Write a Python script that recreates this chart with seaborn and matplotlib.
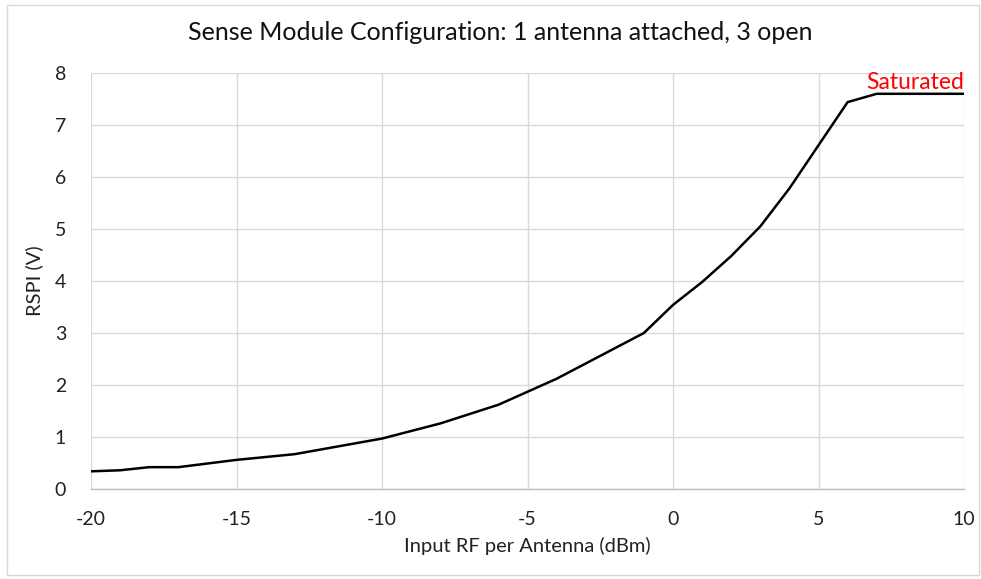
import matplotlib
matplotlib.use("Agg")
import matplotlib.pyplot as plt
from matplotlib.patches import Rectangle
from matplotlib.ticker import MultipleLocator
import seaborn as sns
import pandas as pd

# values
input_rf = [-20, -19, -18, -17, -15, -13, -10, -8, -6, -4, -1, 0, 1, 2, 3, 4, 5, 6, 7, 10]
rspi = [0.34, 0.36, 0.42, 0.42, 0.56, 0.67, 0.97, 1.26, 1.62, 2.12, 3.0, 3.54, 3.98, 4.48, 5.05, 5.78, 6.61, 7.44, 7.6, 7.6]

x_ticks = [-20, -15, -10, -5, 0, 5, 10]
y_ticks = [0, 1, 2, 3, 4, 5, 6, 7, 8]

df = pd.DataFrame({"rf": input_rf, "rspi": rspi})

sns.set_style("white")
plt.rcParams['font.family'] = ['Lato', 'DejaVu Sans']
plt.rcParams['axes.unicode_minus'] = False

fig = plt.figure(figsize=(9.81, 5.79), dpi=100)
ax = fig.add_axes([91 / 981, 1 - 489 / 579, (964 - 91) / 981, (489 - 73) / 579])

sns.lineplot(data=df, x="rf", y="rspi", color="black", linewidth=1.8, ax=ax)

ax.set_xlim(-20, 10)
ax.set_ylim(0, 8)
ax.set_xticks(x_ticks)
ax.set_yticks(y_ticks)
ax.xaxis.set_minor_locator(MultipleLocator(1))
ax.grid(True, which="major", color="#d9d9d9", linewidth=1)
ax.set_axisbelow(True)

for side in ["top", "right", "left"]:
    ax.spines[side].set_visible(False)
ax.spines["bottom"].set_color("#bfbfbf")
ax.spines["bottom"].set_linewidth(1)

ax.tick_params(axis="x", which="both", direction="in", length=5, color="#bfbfbf",
               pad=16, labelsize=14, labelcolor="#222222")
ax.tick_params(axis="y", length=0, pad=18, labelsize=14, labelcolor="#222222")

ax.set_xlabel("Input RF per Antenna (dBm)", fontsize=14.5, labelpad=6, color="#222222")
ax.set_ylabel("RSPI (V)", fontsize=14.5, labelpad=8, color="#222222")

# title is centred on the whole chart, not on the plot area
fig.text(500 / 981, 1 - 33 / 579, "Sense Module Configuration: 1 antenna attached, 3 open",
         fontsize=18, color="#111111", ha="center", va="center")

ax.text(10, 7.62, "Saturated", color="#ff0000", fontsize=16.5, ha="right", va="bottom")

fig.patches.append(Rectangle((7 / 981, 4 / 579), 972 / 981, 570 / 579, transform=fig.transFigure,
                             fill=False, edgecolor="#d9d9d9", linewidth=1))

fig.savefig("out.png", dpi=100)
